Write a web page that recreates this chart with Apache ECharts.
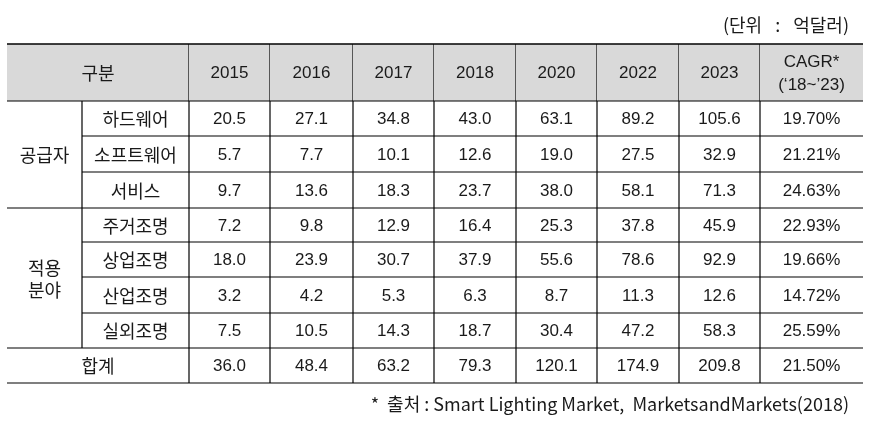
<!DOCTYPE html>
<html><head><meta charset="utf-8">
<script src="https://cdn.jsdelivr.net/npm/echarts@6/dist/echarts.min.js"></script>
<style>html,body{margin:0;padding:0;background:#fff}#c{width:875px;height:422px}</style>
</head><body><div id="c"></div>
<script>
// ---- data ----
const headerLabel = '구분';
const years = ['2015', '2016', '2017', '2018', '2020', '2022', '2023'];
const cagrHeader = 'CAGR*\n(‘18~’23)';
const groups = ['공급자', '적용\n분야'];
const groupSpans = [3, 4];
const categories = ['하드웨어', '소프트웨어', '서비스', '주거조명', '상업조명', '산업조명', '실외조명'];
const hardware = [20.5, 27.1, 34.8, 43.0, 63.1, 89.2, 105.6];
const software = [5.7, 7.7, 10.1, 12.6, 19.0, 27.5, 32.9];
const services = [9.7, 13.6, 18.3, 23.7, 38.0, 58.1, 71.3];
const residential = [7.2, 9.8, 12.9, 16.4, 25.3, 37.8, 45.9];
const commercial = [18.0, 23.9, 30.7, 37.9, 55.6, 78.6, 92.9];
const industrial = [3.2, 4.2, 5.3, 6.3, 8.7, 11.3, 12.6];
const outdoor = [7.5, 10.5, 14.3, 18.7, 30.4, 47.2, 58.3];
const totalLabel = '합계';
const total = [36.0, 48.4, 63.2, 79.3, 120.1, 174.9, 209.8];
const cagr = ['19.70%', '21.21%', '24.63%', '22.93%', '19.66%', '14.72%', '25.59%'];
const cagrTotal = '21.50%';
const unitNote = '(단위\u2002 :\u2002 억달러)';
const sourceNote = '*  출처 : Smart Lighting Market,  MarketsandMarkets(2018)';

// ---- layout (column / row sizes in axis units) ----
const colWidths = [75, 107, 81, 83, 81, 82, 81, 82, 81, 103];
const rowHeights = [57, 35, 36, 36, 34, 35, 36, 35, 35];
const colEdges = [0]; colWidths.forEach(w => colEdges.push(colEdges[colEdges.length - 1] + w));
const rowEdges = [0]; rowHeights.forEach(h => rowEdges.push(rowEdges[rowEdges.length - 1] + h));
const nCols = colWidths.length, nRows = rowHeights.length;

// ---- build cells: [c0, c1, r0, r1, text, kind] ----
const cells = [];
cells.push([0, 2, 0, 1, headerLabel, 'hk']);
years.forEach((y, i) => cells.push([2 + i, 3 + i, 0, 1, y, 'hn']));
cells.push([9, 10, 0, 1, cagrHeader, 'hn']);
let r = 1;
groups.forEach((g, gi) => { cells.push([0, 1, r, r + groupSpans[gi], g, 'k']); r += groupSpans[gi]; });
const rowsVals = [hardware, software, services, residential, commercial, industrial, outdoor];
categories.forEach((cat, i) => {
  const row = 1 + i;
  cells.push([1, 2, row, row + 1, cat, 'k']);
  rowsVals[i].forEach((v, j) => cells.push([2 + j, 3 + j, row, row + 1, v.toFixed(1), 'n']));
  cells.push([9, 10, row, row + 1, cagr[i], 'n']);
});
cells.push([0, 2, 8, 9, totalLabel, 'k']);
total.forEach((v, j) => cells.push([2 + j, 3 + j, 8, 9, v.toFixed(1), 'n']));
cells.push([9, 10, 8, 9, cagrTotal, 'n']);

const NUM_FONT = '"Liberation Sans", Arial, sans-serif';
const KOR_FONT = '"Noto Sans CJK KR", sans-serif';
const LINE = '#000';

function renderItem(params, api) {
  const c = cells[params.dataIndex];
  const p0 = api.coord([colEdges[c[0]], rowEdges[c[2]]]);
  const p1 = api.coord([colEdges[c[1]], rowEdges[c[3]]]);
  const x0 = p0[0], y0 = p0[1], x1 = p1[0], y1 = p1[1];
  const isHeader = c[5][0] === 'h';
  const isKor = c[5].indexOf('k') >= 0;
  const children = [];
  if (isHeader) {
    children.push({ type: 'rect', shape: { x: x0, y: y0, width: x1 - x0, height: y1 - y0 }, style: { fill: '#d9d9d9' } });
  }
  children.push({ type: 'line', shape: { x1: x0, y1: y1, x2: x1, y2: y1 }, style: { stroke: LINE, lineWidth: 1.2 } });
  if (c[2] === 0) {
    children.push({ type: 'line', shape: { x1: x0, y1: y0, x2: x1, y2: y0 }, style: { stroke: LINE, lineWidth: 1.6 } });
  }
  if (c[1] < nCols) {
    children.push({ type: 'line', shape: { x1: x1, y1: y0, x2: x1, y2: y1 }, style: { stroke: LINE, lineWidth: 1.2 } });
  }
  children.push({
    type: 'text',
    style: {
      text: c[4], x: (x0 + x1) / 2, y: (y0 + y1) / 2 + 1,
      align: 'center', verticalAlign: 'middle',
      font: (isKor ? '18px ' + KOR_FONT : '17px ' + NUM_FONT),
      lineHeight: isKor ? 22 : 23,
      fill: '#1a1a1a'
    }
  });
  return { type: 'group', children: children };
}

const chart = echarts.init(document.getElementById('c'));
chart.setOption({
  animation: false,
  backgroundColor: '#fff',
  title: [
    { text: unitNote, right: 21, top: 11, textStyle: { fontFamily: KOR_FONT, fontSize: 18, fontWeight: 'normal', color: '#1a1a1a' } },
    { text: sourceNote, right: 21, top: 390, textStyle: { fontFamily: KOR_FONT, fontSize: 18, fontWeight: 'normal', color: '#1a1a1a' } }
  ],
  grid: { left: 7, right: 12, top: 44, bottom: 39 },
  xAxis: { type: 'value', min: 0, max: colEdges[nCols], show: false },
  yAxis: { type: 'value', min: 0, max: rowEdges[nRows], inverse: true, show: false },
  series: [{
    type: 'custom',
    renderItem: renderItem,
    data: cells.map((c, i) => [i]),
    clip: false
  }]
});
</script></body></html>
